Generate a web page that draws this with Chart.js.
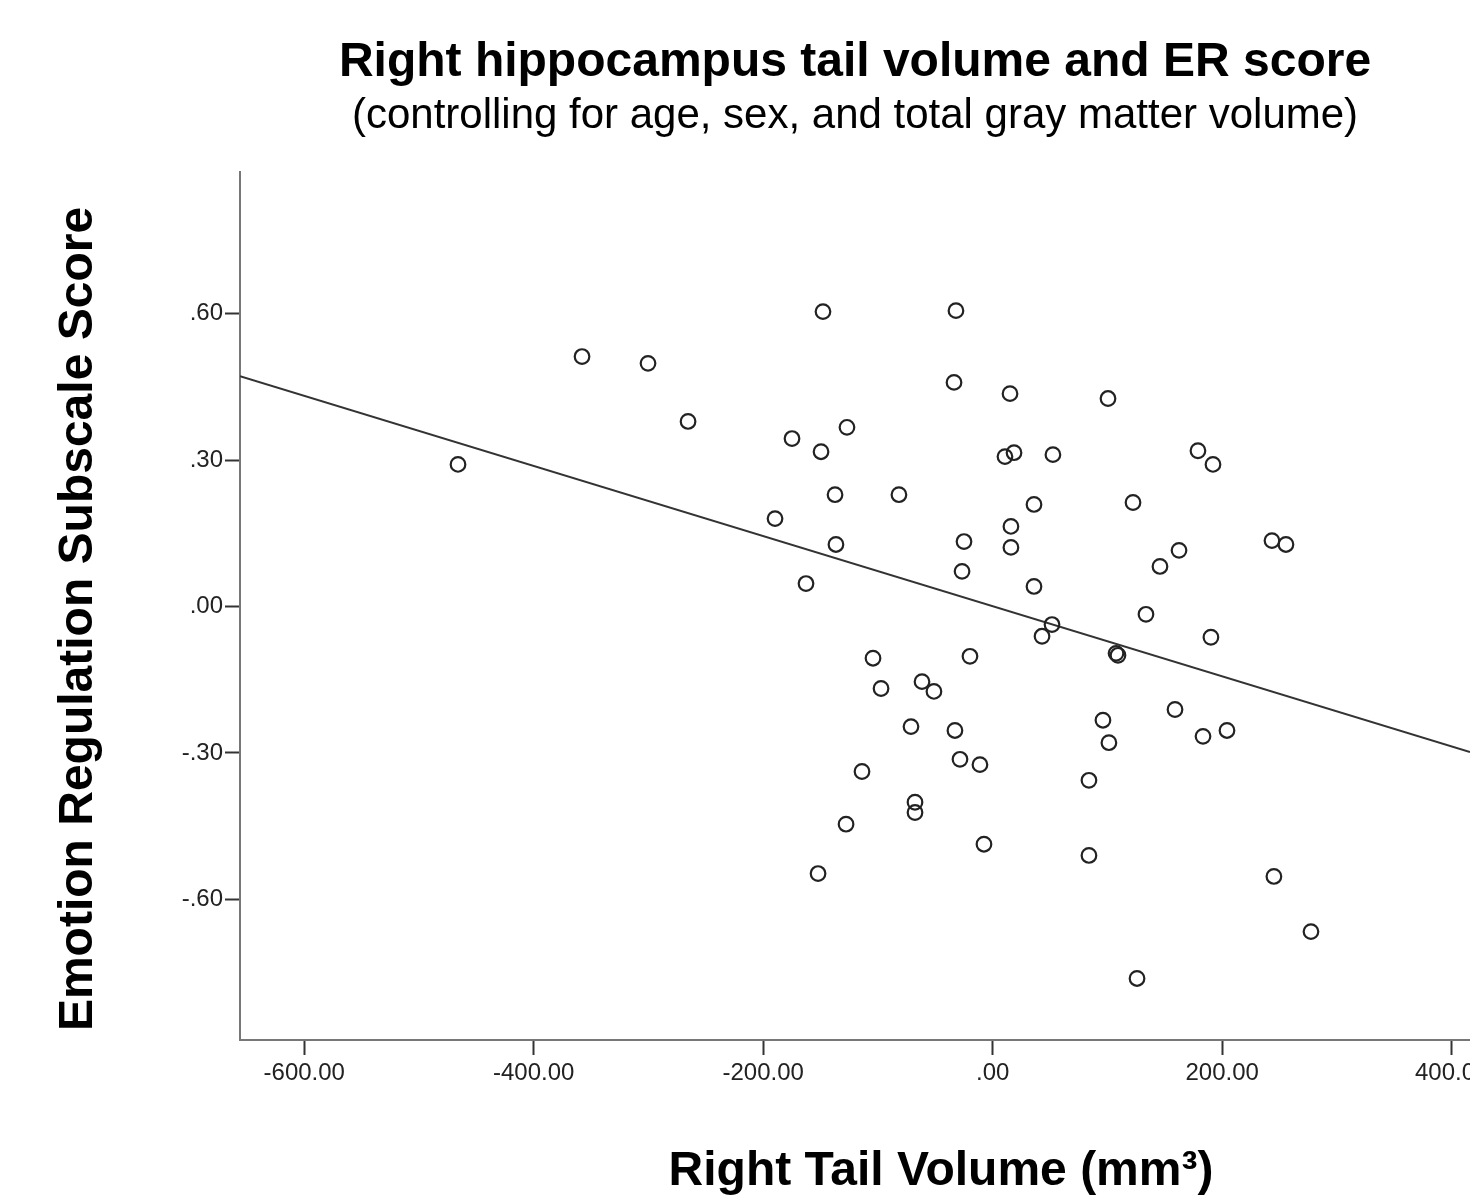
<!DOCTYPE html>
<html>
<head>
<meta charset="utf-8">
<title>Right hippocampus tail volume and ER score</title>
<script src="https://cdn.jsdelivr.net/npm/chart.js@4.4.1/dist/chart.umd.min.js"></script>
<style>
  html, body { margin: 0; padding: 0; background: #fff; overflow: hidden; }
  #wrap { width: 1470px; height: 1197px; }
</style>
</head>
<body>
<div id="wrap"><canvas id="myChart" width="1470" height="1197"></canvas></div>
<script>
// residual right tail volume (mm3) vs. ER subscale residual
const tailVolume = [
  -466.0, -357.9, -300.4, -265.5, -189.7, -174.9, -162.7, -149.6, -147.9, -137.4,
  -136.6, -127.0, -152.2, -127.8, -113.9, -104.3, -97.3, -81.7, -71.2, -67.7,
  -67.7, -61.6, -51.2, -32.0, -33.7, -32.9, -28.5, -25.0, -26.7, -19.8,
  -11.1, -7.6, 10.7, 18.6, 15.1, 15.9, 15.9, 36.0, 36.0, 52.5,
  43.0, 51.7, 83.9, 83.9, 96.1, 101.3, 100.5, 107.5, 109.2, 122.3,
  133.6, 125.8, 145.8, 162.4, 158.9, 178.9, 192.0, 190.2, 183.3, 204.2,
  243.4, 255.6, 245.1, 277.4
];
const erScore = [
  0.291, 0.512, 0.498, 0.379, 0.180, 0.344, 0.047, 0.317, 0.604, 0.229,
  0.127, 0.367, -0.547, -0.446, -0.338, -0.106, -0.168, 0.229, -0.246, -0.401,
  -0.422, -0.154, -0.174, 0.606, 0.459, -0.254, -0.313, 0.133, 0.072, -0.102,
  -0.324, -0.487, 0.307, 0.315, 0.436, 0.164, 0.121, 0.209, 0.041, 0.311,
  -0.061, -0.037, -0.356, -0.510, -0.233, -0.279, 0.426, -0.096, -0.100, 0.213,
  -0.016, -0.762, 0.082, 0.115, -0.211, 0.319, 0.291, -0.063, -0.266, -0.254,
  0.135, 0.127, -0.553, -0.666
];

// linear fit shown in the figure
const fitIntercept = 0.0005;
const fitSlope = -0.000718;

const xTicks = [-600, -400, -200, 0, 200, 400];
const yTicks = [-0.6, -0.3, 0, 0.3, 0.6];
const xRange = [-656, 416];
const yRange = [-0.888, 0.890];

const points = tailVolume.map((v, i) => ({ x: v, y: erScore[i] }));
const fitLine = xRange.map(v => ({ x: v, y: fitIntercept + fitSlope * v }));

function fmt(v) {
  let s = Math.abs(v).toFixed(2).replace(/^0/, "");
  return (v < 0 ? "-" : "") + s;
}

const FONT = '"Liberation Sans", Arial, sans-serif';

const axisTitles = {
  id: "axisTitles",
  afterDraw(chart) {
    const ctx = chart.ctx;
    ctx.save();
    ctx.fillStyle = "#000";
    ctx.font = "bold 48px " + FONT;
    ctx.textAlign = "center";
    ctx.textBaseline = "middle";
    ctx.fillText("Right Tail Volume (mm\u00b3)", 941, 1172);
    ctx.translate(79, 619);
    ctx.rotate(-Math.PI / 2);
    ctx.fillText("Emotion Regulation Subscale Score", 0, 0);
    ctx.restore();
  }
};

const tickFont = { family: FONT, size: 24 };

const config = {
  type: "scatter",
  data: {
    datasets: [
      {
        label: "cases",
        data: points,
        pointStyle: "circle",
        pointRadius: 7.3,
        pointBorderWidth: 2.2,
        pointBackgroundColor: "rgba(0,0,0,0)",
        pointBorderColor: "#222",
        showLine: false,
      },
      {
        label: "fit",
        data: fitLine,
        showLine: true,
        pointRadius: 0,
        borderColor: "#333",
        borderWidth: 2,
        fill: false,
      },
    ],
  },
  options: {
    responsive: false,
    animation: false,
    devicePixelRatio: 1,
    layout: { padding: 0, autoPadding: false },
    plugins: {
      legend: { display: false },
      tooltip: { enabled: false },
      title: {
        display: true,
        fullSize: false,
        text: "Right hippocampus tail volume and ER score",
        color: "#000",
        font: { family: FONT, size: 48, weight: "bold", lineHeight: 1.2 },
        padding: { top: 34, bottom: 0 },
      },
      subtitle: {
        display: true,
        fullSize: false,
        text: "(controlling for age, sex, and total gray matter volume)",
        color: "#000",
        font: { family: FONT, size: 42, weight: "normal", lineHeight: 1.2 },
        padding: { top: 0, bottom: 30 },
      },
    },
    scales: {
      x: {
        type: "linear",
        min: xRange[0],
        max: xRange[1],
        afterBuildTicks: s => { s.ticks = xTicks.map(v => ({ value: v })); },
        afterFit: s => { s.height = 157; s.paddingLeft = 0; s.paddingRight = 0; },
        border: { display: true, color: "#777", width: 2 },
        grid: { drawOnChartArea: false, drawTicks: true, tickLength: 15, tickColor: "#333", tickWidth: 2 },
        ticks: { color: "#222", font: tickFont, padding: 4, maxRotation: 0, autoSkip: false, callback: v => fmt(v) },
      },
      y: {
        type: "linear",
        min: yRange[0],
        max: yRange[1],
        afterBuildTicks: s => { s.ticks = yTicks.map(v => ({ value: v })); },
        afterFit: s => { s.width = 240; s.paddingTop = 0; s.paddingBottom = 0; },
        border: { display: true, color: "#777", width: 2 },
        grid: { drawOnChartArea: false, drawTicks: true, tickLength: 15, tickColor: "#333", tickWidth: 2 },
        ticks: { color: "#222", font: tickFont, padding: 2, autoSkip: false, callback: v => fmt(v) },
      },
    },
  },
  plugins: [axisTitles],
};

const myChart = new Chart(document.getElementById("myChart"), config);
</script>
</body>
</html>
